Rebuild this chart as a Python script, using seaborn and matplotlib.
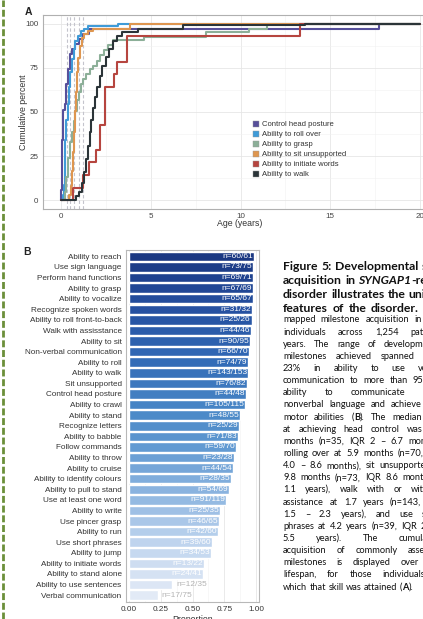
import numpy as np
import pandas as pd
import matplotlib
matplotlib.use("Agg")
import matplotlib.pyplot as plt
import seaborn as sns
from matplotlib.colors import LinearSegmentedColormap
from matplotlib.lines import Line2D
from matplotlib.patches import Patch
from matplotlib.font_manager import FontProperties
from matplotlib.transforms import IdentityTransform

# ---------------- Panel A data (cumulative percent steps) ----------------
milestones_a = ["Control head posture", "Ability to roll over", "Ability to grasp",
                "Ability to sit unsupported", "Ability to initiate words", "Ability to walk"]
colors_a = ["#574f9a", "#3f9bd8", "#8caf98", "#de9650", "#b6453f", "#2b3438"]

head_age = [0, 0.02, 0.05, 0.08, 0.12, 0.2, 0.28, 0.4, 0.5, 0.62, 0.8, 1.0, 1.2, 1.55, 17.7, 20]
head_pct = [0, 5.7, 17.1, 34.3, 51.4, 54.3, 65.7, 74.3, 82.9, 85.7, 88.6, 91.4, 94.3, 97.1, 100, 100]

roll_age = [0, 0.1, 0.15, 0.2, 0.25, 0.3, 0.38, 0.45, 0.52, 0.6, 0.7, 0.8, 0.95, 1.1, 1.3, 1.5, 3.15, 20]
roll_pct = [0, 2.9, 8.6, 20, 34.3, 45.7, 54.3, 64.3, 72.9, 80, 85.7, 90, 92.9, 95.7, 97.1, 98.6, 100, 100]

grasp_age = [0, 0.2, 0.3, 0.4, 0.5, 0.6, 0.7, 0.8, 0.9, 1.0, 1.1, 1.25, 1.4, 1.6, 1.8, 2.0, 2.2,
             2.4, 2.6, 2.9, 4.6, 8.1, 10.5, 11.5, 20]
grasp_pct = [0, 4.5, 13.4, 23.9, 32.8, 38.8, 44.8, 50.7, 56.7, 61.2, 65.7, 68.7, 71.6, 74.6, 76.1,
             79.1, 82.1, 85.1, 88.1, 91.0, 92.5, 95.5, 97.0, 100, 100]

sit_age = [0, 0.45, 0.55, 0.62, 0.68, 0.72, 0.77, 0.82, 0.88, 0.95, 1.05, 1.15, 1.3, 1.5, 1.8, 3.85, 20]
sit_pct = [0, 2.7, 8.2, 16.4, 27.4, 38.4, 50.7, 61.6, 72.6, 80.8, 87.7, 91.8, 94.5, 95.9, 97.3, 100, 100]

words_age = [0, 0.65, 1.25, 1.55, 1.95, 2.2, 2.45, 2.95, 3.1, 3.7, 13.3, 20]
words_pct = [0, 7.1, 14.3, 21.4, 28.6, 42.9, 64.3, 71.4, 78.6, 92.9, 100, 100]

walk_age = [0, 0.85, 1.0, 1.15, 1.3, 1.4, 1.5, 1.6, 1.7, 1.8, 1.9, 2.0, 2.15, 2.3, 2.5, 2.7, 2.9,
            3.1, 3.4, 4.3, 6.8, 13.6, 20]
walk_pct = [0, 2.1, 4.9, 9.8, 16.1, 23.1, 30.8, 38.5, 45.5, 52.4, 58.7, 64.3, 70.6, 76.2, 81.1,
            86.0, 90.2, 93.0, 95.1, 97.2, 99.3, 100, 100]

median_lines = [0.35, 0.5, 0.75, 0.98, 1.25]

# ---------------- Panel B data ----------------
milestones_b = ["Ability to reach", "Use sign language", "Perform hand functions", "Ability to grasp",
                "Ability to vocalize", "Recognize spoken words", "Ability to roll front-to-back",
                "Walk with assisstance", "Ability to sit", "Non-verbal communication", "Ability to roll",
                "Ability to walk", "Sit unsupported", "Control head posture", "Ability to crawl",
                "Ability to stand", "Recognize letters", "Ability to babble", "Follow commands",
                "Ability to throw", "Ability to cruise", "Ability to identify colours",
                "Ability to pull to stand", "Use at least one word", "Ability to write", "Use pincer grasp",
                "Ability to run", "Use short phrases", "Ability to jump", "Ability to initiate words",
                "Ability to stand alone", "Ability to use sentences", "Verbal communication"]
achieved = [60, 73, 69, 67, 65, 31, 25, 44, 90, 66, 74, 143, 76, 44, 105, 48, 25, 71, 59, 23, 44, 28,
            54, 91, 25, 46, 42, 39, 34, 13, 24, 12, 17]
assessed = [61, 75, 71, 69, 67, 32, 26, 46, 95, 70, 79, 153, 82, 48, 115, 55, 29, 83, 70, 28, 54, 35,
            69, 119, 35, 65, 60, 60, 53, 22, 41, 35, 75]

# ---------------- Figure ----------------
W_PX, H_PX = 423, 619
sns.set_theme(style="white")
plt.rcParams['font.family'] = ['Liberation Sans', 'DejaVu Sans']
fig = plt.figure(figsize=(W_PX / 100, H_PX / 100), dpi=100)
fig.patch.set_facecolor("white")

def fx(px):
    return px / W_PX

def fy(py):
    return 1 - py / H_PX

# ---- Panel A ----
axA = fig.add_axes([fx(43), fy(209), fx(438) - fx(43), fy(15) - fy(209)])
rows = []
for name, ages, pcts in zip(milestones_a,
                            [head_age, roll_age, grasp_age, sit_age, words_age, walk_age],
                            [head_pct, roll_pct, grasp_pct, sit_pct, words_pct, walk_pct]):
    for a, p in zip(ages, pcts):
        rows.append((name, a, p))
dfA = pd.DataFrame(rows, columns=["milestone", "age", "pct"])

axA.set_xlim(-1, 21)
axA.set_ylim(-5, 105)
axA.set_xticks([0, 5, 10, 15, 20])
axA.set_yticks([0, 25, 50, 75, 100])
axA.set_xticks([2.5, 7.5, 12.5, 17.5], minor=True)
axA.set_yticks([12.5, 37.5, 62.5, 87.5], minor=True)
axA.grid(True, which="major", color="#e6e6e6", lw=0.6)
axA.grid(True, which="minor", color="#f1f1f1", lw=0.4)
axA.set_axisbelow(True)
for xv in median_lines:
    axA.axvline(xv, color="#c4c4cc", lw=0.8, ls=(0, (3, 2)), zorder=1)

sns.lineplot(data=dfA, x="age", y="pct", hue="milestone", hue_order=milestones_a,
             palette=dict(zip(milestones_a, colors_a)), estimator=None, sort=False,
             drawstyle="steps-post", lw=1.5, legend=False, ax=axA, zorder=3)

for s in axA.spines.values():
    s.set_color("#b0b0b0")
    s.set_linewidth(0.8)
axA.tick_params(axis="both", which="major", length=2, width=0.5, color="#555555",
                labelsize=5.8, labelcolor="#444444", pad=1.2)
axA.tick_params(axis="both", which="minor", length=0)
axA.set_xlabel("Age (years)", fontsize=6.3, color="#333333")
axA.set_ylabel("Cumulative percent", fontsize=6.3, color="#333333")
axA.xaxis.set_label_coords((240 - 43) / 395, (209 - 224) / 194)
axA.xaxis.label.set_va("center")
axA.yaxis.set_label_coords((24 - 43) / 395, 0.5)
axA.yaxis.label.set_va("center")

handles = [Patch(facecolor=c, edgecolor="#999999", lw=0.3) for c in colors_a]
axA.legend(handles, milestones_a, loc="upper left",
           bbox_to_anchor=((253 - 43) / 395, (209 - 121) / 194),
           frameon=False, fontsize=5.5, handlelength=0.75, handleheight=0.75,
           handletextpad=0.4, labelspacing=0.33, borderpad=0, borderaxespad=0,
           labelcolor="#333333")

fig.text(fx(25), fy(12), "A", fontsize=7.5, fontweight="bold", va="center", ha="left", color="#222222")

# ---- Panel B ----
axB = fig.add_axes([fx(126), fy(601.5), fx(259) - fx(126), fy(250) - fy(601.5)])
prop = [a / b for a, b in zip(achieved, assessed)]
dfB = pd.DataFrame({"milestone": milestones_b, "prop": prop})
n = len(milestones_b)
cmap = LinearSegmentedColormap.from_list(
    "b", [(0.0, "#1b3882"), (0.15, "#2550a0"), (0.3, "#3169b5"), (0.45, "#4886c6"),
          (0.55, "#5d97d0"), (0.7, "#8db5e0"), (0.85, "#c0d5ee"), (1.0, "#e2eaf6")])
bar_colors = [cmap(i / (n - 1)) for i in range(n)]

axB.set_xticks([0.125, 0.375, 0.625, 0.875], minor=True)
axB.grid(True, axis="x", which="major", color="#e6e6e6", lw=0.6)
axB.grid(True, axis="x", which="minor", color="#f1f1f1", lw=0.4)
axB.grid(True, axis="y", which="major", color="#e6e6e6", lw=0.6)
axB.set_axisbelow(True)
sns.barplot(data=dfB, x="prop", y="milestone", hue="milestone", order=milestones_b,
            hue_order=milestones_b, palette=bar_colors, legend=False, width=0.9,
            saturation=1, ax=axB, zorder=2)
axB.set_xlim(-0.02, 1.02)
axB.set_ylim(n - 1 + 0.6, -0.6)
axB.set_xticks([0, 0.25, 0.5, 0.75, 1.0])
axB.set_xticklabels(["0.00", "0.25", "0.50", "0.75", "1.00"])
for i, (a, b, p) in enumerate(zip(achieved, assessed, prop)):
    lab = f"n={a}/{b}"
    if p >= 0.4:
        axB.text(p - 0.008, i, lab, ha="right", va="center", fontsize=6.0, color="white", zorder=4)
    else:
        axB.text(p + 0.03, i, lab, ha="left", va="center", fontsize=6.0, color="#b4b4b4", zorder=4)
for s in axB.spines.values():
    s.set_color("#b8b8b8")
    s.set_linewidth(0.8)
axB.tick_params(axis="both", which="major", length=2, width=0.5, color="#555555",
                labelsize=5.9, labelcolor="#333333", pad=1.2)
axB.tick_params(axis="both", which="minor", length=0)
axB.set_ylabel("")
axB.set_xlabel("Proportion", fontsize=6.3, color="#333333")
axB.xaxis.set_label_coords(0.5, (601.5 - 619) / 351.5)
axB.xaxis.label.set_va("center")

fig.text(fx(23), fy(252), "B", fontsize=7.5, fontweight="bold", va="center", ha="left", color="#222222")

# ---- left dashed green rule ----
fig.add_artist(Line2D([fx(3), fx(3)], [0, 1], transform=fig.transFigure, color="#6b8f3a",
                      lw=2.0, ls=(0, (2.5, 1.0))))

# ---- caption text ----
fp_b = FontProperties(family="Lato", weight="bold", size=8.8)
fp_bi = FontProperties(family="Lato", weight="bold", style="italic", size=8.8)
fp_n = FontProperties(family="Lato", size=6.7)
fp_nb = FontProperties(family="Lato", weight="bold", size=6.7)

bold_lines = [
    "Figure 5: Developmental skill",
    "acquisition in *SYNGAP1*-related",
    "disorder illustrates the unique",
    "features of the disorder. We",
]
normal_lines = [
    "mapped milestone acquisition in 147",
    "individuals across 1,254 patient-",
    "years. The range of developmental",
    "milestones achieved spanned from",
    "23% in ability to use verbal",
    "communication to more than 95% in",
    "ability to communicate using",
    "nonverbal language and achieve fine",
    "motor abilities (^B^). The median age",
    "at achieving head control was 4.0",
    "months (n=35, IQR 2 \u2013 6.7 months),",
    "rolling over at 5.9 months (n=70, IQR",
    "4.0 \u2013 8.6 months), sit unsupported at",
    "9.8 months (n=73, IQR 8.6 months \u2013",
    "1.1 years), walk with or without",
    "assistance at 1.7 years (n=143, IQR",
    "1.5 \u2013 2.3 years), and use short",
    "phrases at 4.2 years (n=39, IQR 2.8 \u2013",
    "5.5 years). The cumulative",
    "acquisition of commonly assessed",
    "milestones is displayed over the",
    "lifespan, for those individuals in",
    "which that skill was attained (^A^).",
]

renderer = fig.canvas.get_renderer()
TX0, TW = 283, 160

def split_word(word, base, alt_star, alt_caret):
    segs = []
    cur, mode = "", "base"
    for ch in word:
        if ch == "*" or ch == "^":
            if cur:
                segs.append((cur, mode))
            cur = ""
            target = "star" if ch == "*" else "caret"
            mode = "base" if mode == target else target
        else:
            cur += ch
    if cur:
        segs.append((cur, mode))
    out = []
    for txt, m in segs:
        fp = base if m == "base" else (alt_star if m == "star" else alt_caret)
        out.append((txt, fp))
    return out

def draw_line(line, ybase, base, alt_star, alt_caret, justify):
    words = line.split(" ")
    items = []
    for w in words:
        segs = []
        tot = 0.0
        for txt, fp in split_word(w, base, alt_star, alt_caret):
            t = fig.text(0, 0, txt, fontproperties=fp, transform=IdentityTransform(),
                         ha="left", va="baseline", color="#111111")
            wd = t.get_window_extent(renderer).width
            segs.append((t, wd))
            tot += wd
        items.append((segs, tot))
    total = sum(tw for _, tw in items)
    size_px = base.get_size_in_points() * 100 / 72
    space = 0.25 * size_px
    gap = (TW - total) / (len(items) - 1) if (justify and len(items) > 1) else space
    gap = max(gap, space)
    x = TX0
    for segs, tot in items:
        xx = x
        for t, wd in segs:
            t.set_position((xx, H_PX - ybase))
            xx += wd
        x += tot + gap

for i, ln in enumerate(bold_lines):
    draw_line(ln, 269.5 + 14.2 * i, fp_b, fp_bi, fp_b, True)
for i, ln in enumerate(normal_lines):
    draw_line(ln, 322.5 + 12.14 * i, fp_n, fp_n, fp_nb, i < len(normal_lines) - 1)

fig.savefig("out.png", dpi=100)
